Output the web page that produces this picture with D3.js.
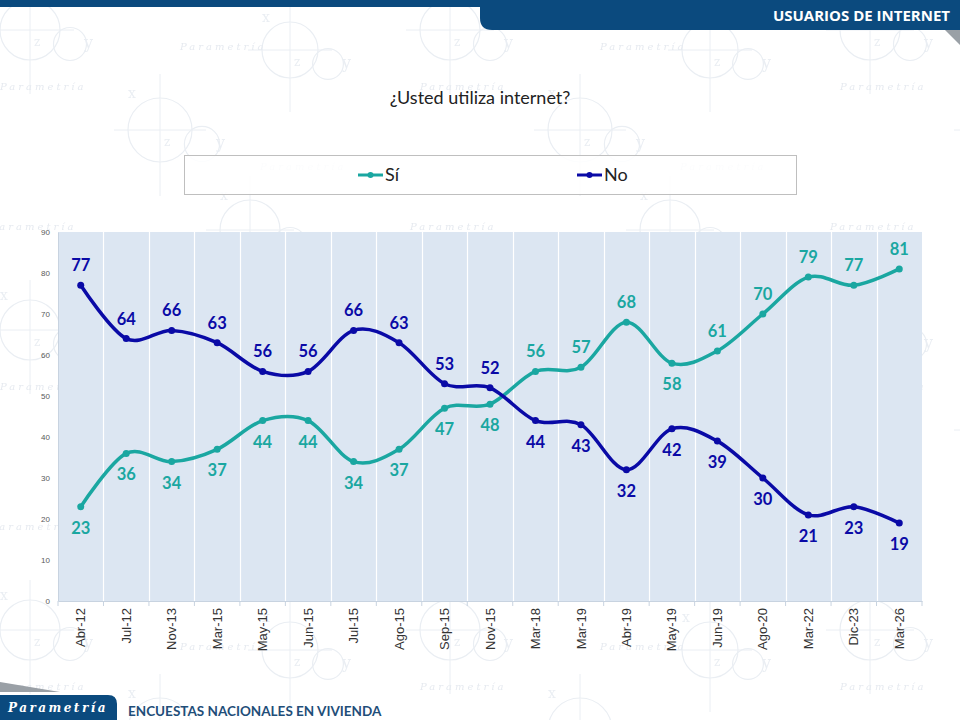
<!DOCTYPE html>
<html>
<head>
<meta charset="UTF-8">
<title>Usuarios de internet</title>
<style>
  body { margin: 0; background: #fff; overflow: hidden; }
  svg text { font-family: Lato, "Open Sans", sans-serif; }
  .ytick text { font-family: "Liberation Sans", Arial, sans-serif; font-size: 8px; fill: #595959; }
  .xtick text { font-family: "Liberation Sans", Arial, sans-serif; font-size: 13px; fill: #333; }
  .lbl { font-weight: bold; font-size: 16.5px; text-anchor: middle; }
</style>
</head>
<body>
<svg id="chart" width="960" height="720"></svg>
<script src="https://d3js.org/d3.v7.min.js"></script>
<script>
const categories = ["Abr-12","Jul-12","Nov-13","Mar-15","May-15","Jun-15","Jul-15","Ago-15","Sep-15",
  "Nov-15","Mar-18","Mar-19","Abr-19","May-19","Jun-19","Ago-20","Mar-22","Dic-23","Mar-26"];
const si = [23,36,34,37,44,44,34,37,47,48,56,57,68,58,61,70,79,77,81];
const no = [77,64,66,63,56,56,66,63,53,52,44,43,32,42,39,30,21,23,19];
// label above (1) or below (-1) the point
const siPos = [-1,-1,-1,-1,-1,-1,-1,-1,-1,-1,1,1,1,-1,1,1,1,1,1];
const noPos = [1,1,1,1,1,1,1,1,1,1,-1,-1,-1,-1,-1,-1,-1,-1,-1];
const yTicks = [0,10,20,30,40,50,60,70,80,90];

const series = [
  { name: "Sí", values: si, pos: siPos, color: "#1aa7a1" },
  { name: "No", values: no, pos: noPos, color: "#0a0aa6" }
];

const svg = d3.select("#chart");
const margin = { left: 58, right: 922, top: 232, bottom: 601 };

// --- watermark background
const defs = svg.append("defs");
const pat = defs.append("pattern").attr("id", "wm")
  .attr("patternUnits", "userSpaceOnUse").attr("width", 420).attr("height", 300)
  .attr("x", -40).attr("y", -20);
const wmc = "#eaeef3";
[[70,50,30],[200,150,32],[330,70,28],[290,250,30]].forEach(([cx,cy,r]) => {
  pat.append("circle").attr("cx", cx).attr("cy", cy).attr("r", r)
    .attr("fill", "none").attr("stroke", wmc).attr("stroke-width", 1.2);
  pat.append("circle").attr("cx", cx + r + 10).attr("cy", cy + 14).attr("r", r * 0.55)
    .attr("fill", "none").attr("stroke", wmc).attr("stroke-width", 1.2);
  pat.append("line").attr("x1", cx - r - 14).attr("x2", cx + r + 14).attr("y1", cy).attr("y2", cy)
    .attr("stroke", wmc);
  pat.append("line").attr("x1", cx).attr("x2", cx).attr("y1", cy - r - 24).attr("y2", cy + r + 34)
    .attr("stroke", wmc);
  pat.append("text").attr("x", cx - r).attr("y", cy - r).text("x")
    .attr("fill", wmc).style("font-size", "14px").style("font-family", "DejaVu Serif");
  pat.append("text").attr("x", cx + r + 24).attr("y", cy + 18).text("y")
    .attr("fill", wmc).style("font-size", "16px").style("font-family", "DejaVu Serif");
  pat.append("text").attr("x", cx + 4).attr("y", cy + 16).text("z")
    .attr("fill", wmc).style("font-size", "12px").style("font-family", "DejaVu Serif");
});
[[40,110],[220,70],[300,190],[30,250]].forEach(([x,y]) => {
  pat.append("text").attr("x", x).attr("y", y).text("Parametría")
    .attr("fill", "#e6eaf0").style("font-size", "10px").style("font-style", "italic")
    .style("letter-spacing", "3px").style("font-family", "DejaVu Serif");
});
svg.append("rect").attr("width", 960).attr("height", 720).attr("fill", "url(#wm)");

// --- header
svg.append("rect").attr("x", 0).attr("y", 0).attr("width", 960).attr("height", 7).attr("fill", "#0b4a7e");
svg.append("path").attr("d", "M945,30 L960,30 L960,45 Z").attr("fill", "#9aa0a6");
svg.append("path").attr("d", "M480,0 L960,0 L960,30 L492,30 Q480,30 480,18 Z").attr("fill", "#0b4a7e");
svg.append("text").attr("x", 950).attr("y", 21).attr("text-anchor", "end")
  .attr("fill", "#fff").style("font-size", "15px").style("font-weight", "bold")
  .style("font-family", "'Open Sans', sans-serif").text("USUARIOS DE INTERNET");

// --- title
svg.append("text").attr("x", 480).attr("y", 104).attr("text-anchor", "middle")
  .attr("fill", "#222").style("font-size", "18px").text("¿Usted utiliza internet?");

// --- legend
svg.append("rect").attr("x", 184.5).attr("y", 155.5).attr("width", 612).attr("height", 39)
  .attr("fill", "#fff").attr("fill-opacity", 0.85).attr("stroke", "#bfbfbf");
const legX = [358, 577];
series.forEach((s, i) => {
  const g = svg.append("g").attr("transform", `translate(${legX[i]},175)`);
  g.append("line").attr("x1", 0).attr("x2", 25).attr("stroke", s.color).attr("stroke-width", 3);
  g.append("circle").attr("cx", 12.5).attr("r", 3).attr("fill", s.color);
  g.append("text").attr("x", 27).attr("y", 6).attr("fill", "#222").style("font-size", "18px").text(s.name);
});

// --- scales
const x = d3.scaleBand().domain(categories).range([margin.left, margin.right]);
const y = d3.scaleLinear().domain([0, 90]).range([margin.bottom, margin.top]);

svg.append("rect").attr("x", margin.left).attr("y", margin.top)
  .attr("width", margin.right - margin.left).attr("height", margin.bottom - margin.top)
  .attr("fill", "#dce6f2");

// vertical gridlines at category boundaries
svg.append("g").selectAll("line").data(categories.slice(1)).join("line")
  .attr("x1", d => Math.round(x(d)) + 0.5).attr("x2", d => Math.round(x(d)) + 0.5)
  .attr("y1", margin.top).attr("y2", margin.bottom)
  .attr("stroke", "#fff").attr("stroke-width", 1.2);

// y axis
const yAxis = svg.append("g").attr("class", "ytick")
  .attr("transform", `translate(${margin.left},0)`)
  .call(d3.axisLeft(y).tickValues(yTicks).tickSize(0).tickPadding(8));
yAxis.select(".domain").attr("stroke", "#c8d3e0");

// x axis with ticks between categories
const xAxis = svg.append("g").attr("class", "xtick")
  .attr("transform", `translate(0,${margin.bottom})`)
  .call(d3.axisBottom(x).tickSize(0).tickPadding(0));
xAxis.select(".domain").attr("stroke", "#c8d3e0");
xAxis.selectAll(".tick text")
  .attr("transform", "rotate(-90)")
  .attr("text-anchor", "end")
  .attr("x", -7).attr("y", 0).attr("dy", "0.35em");
svg.append("g").selectAll("line").data(categories.concat(["end"])).join("line")
  .attr("x1", (d, i) => margin.left + i * x.step()).attr("x2", (d, i) => margin.left + i * x.step())
  .attr("y1", margin.bottom).attr("y2", margin.bottom + 5)
  .attr("stroke", "#c8d3e0");

// --- lines
const line = d3.line()
  .x((d, i) => x(categories[i]) + x.bandwidth() / 2)
  .y(d => y(d))
  .curve(d3.curveCatmullRom.alpha(0));

series.forEach(s => {
  const g = svg.append("g");
  g.append("path").datum(s.values).attr("d", line)
    .attr("fill", "none").attr("stroke", s.color).attr("stroke-width", 3.5)
    .attr("stroke-linejoin", "round");
  g.selectAll("circle").data(s.values).join("circle")
    .attr("cx", (d, i) => x(categories[i]) + x.bandwidth() / 2)
    .attr("cy", d => y(d)).attr("r", 3.5).attr("fill", s.color);
  g.selectAll("text").data(s.values).join("text").attr("class", "lbl")
    .attr("x", (d, i) => x(categories[i]) + x.bandwidth() / 2)
    .attr("y", (d, i) => y(d) + (s.pos[i] > 0 ? -14 : 27))
    .attr("fill", s.color).text(d => d);
});

// --- footer
svg.append("path").attr("d", "M0,692 L0,682 L60,692 Z").attr("fill", "#9aa0a6");
svg.append("path").attr("d", "M0,695 L108,695 Q117,695 117,704 L117,720 L0,720 Z").attr("fill", "#0b4a7e");
svg.append("text").attr("x", 58).attr("y", 712).attr("text-anchor", "middle")
  .attr("fill", "#fff").style("font-size", "12px").style("font-weight", "bold")
  .style("font-style", "italic").style("letter-spacing", "2.5px")
  .style("font-family", "'DejaVu Serif', serif").text("Parametría");
svg.append("text").attr("x", 128).attr("y", 716)
  .attr("fill", "#1f4e79").style("font-size", "13.5px").style("font-weight", "bold")
  .text("ENCUESTAS NACIONALES EN VIVIENDA");
</script>
</body>
</html>
